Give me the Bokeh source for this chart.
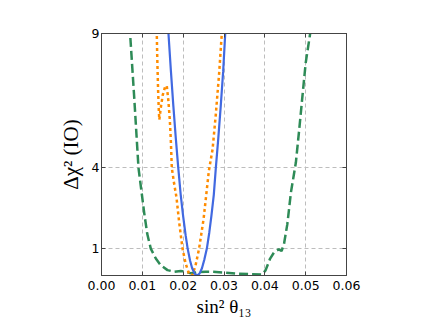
from bokeh.plotting import figure
from bokeh.models import FixedTicker, LinearAxis, NumeralTickFormatter, Range1d
from bokeh.embed import file_html
from bokeh.resources import INLINE

# x ticks and y ticks
x_ticks = [0.00, 0.01, 0.02, 0.03, 0.04, 0.05, 0.06]
y_ticks = [1, 4, 9]

# blue solid curve
blue_x = [0.0161, 0.0164, 0.0170, 0.0176, 0.0182, 0.0188, 0.0194, 0.0200, 0.0206, 0.0211, 0.0217,
          0.0222, 0.0228, 0.0234, 0.0240, 0.0246, 0.0252, 0.0258, 0.0264, 0.0269, 0.0275, 0.0280,
          0.0286, 0.0292, 0.0298, 0.0303, 0.0306]
blue_y = [9.8, 9.0, 7.6, 6.3, 5.1, 4.0, 3.0, 2.2, 1.5, 1.0, 0.55,
          0.27, 0.07, 0.0, 0.07, 0.27, 0.6, 1.0, 1.6, 2.2, 3.0, 4.0,
          5.1, 6.3, 7.6, 9.0, 9.8]

# orange dotted curve
orange_x = [0.01352, 0.01354, 0.01367, 0.01386, 0.01403, 0.01416, 0.01452, 0.01501, 0.01563, 0.01599,
            0.01636, 0.01673, 0.01697, 0.01722, 0.01780, 0.01837, 0.01900, 0.01984, 0.02060, 0.02140,
            0.02190, 0.02220, 0.02300, 0.02390, 0.02500, 0.02630, 0.02720, 0.02800, 0.02880, 0.02946,
            0.02965]
orange_y = [9.8, 9.0, 8.0, 6.9, 6.16, 5.79, 6.24, 6.72, 7.05, 7.05,
            6.53, 5.79, 5.06, 4.0, 3.4, 2.9, 2.0, 1.0, 0.45, 0.08,
            0.0, 0.0, 0.35, 1.0, 2.1, 3.9, 4.69, 6.0, 7.5, 9.0,
            9.8]

# green dashed curve
green_x = [0.0068, 0.0070, 0.0080, 0.00906, 0.01044, 0.01120, 0.01207, 0.0133, 0.01452, 0.01616,
           0.01779, 0.01942, 0.02065, 0.0219, 0.0235, 0.02555, 0.0268, 0.0300, 0.0333, 0.0366,
           0.0394, 0.0402, 0.0413, 0.0423, 0.0434, 0.0441, 0.0447, 0.0455, 0.0464, 0.0476,
           0.0484, 0.0492, 0.0500, 0.0511, 0.0514]
green_y = [9.8, 9.0, 6.65, 4.0, 2.35, 1.55, 1.0, 0.63, 0.38, 0.20,
           0.14, 0.17, 0.14, 0.08, 0.12, 0.14, 0.14, 0.11, 0.07, 0.05,
           0.04, 0.2, 0.63, 0.87, 0.97, 0.91, 1.18, 1.9, 3.1, 4.2,
           5.4, 6.65, 7.9, 9.0, 9.8]

p = figure(width=428, height=319, output_backend="svg", toolbar_location=None,
           x_range=Range1d(0, 0.06), y_range=Range1d(0, 9),
           min_border_left=101, min_border_right=82, min_border_top=33, min_border_bottom=42)
p.background_fill_color = "white"
p.border_fill_color = "white"
p.outline_line_color = "#444444"
p.outline_line_width = 1

for ax in (p.xaxis[0], p.yaxis[0]):
    ax.major_tick_in = 4
    ax.major_tick_out = 0
    ax.minor_tick_line_color = None
    ax.axis_line_color = "#444444"
    ax.major_tick_line_color = "#444444"
    ax.major_label_text_font = "DejaVu Sans"
    ax.major_label_text_font_size = "12.5px"
    ax.major_label_text_color = "black"
    ax.axis_label_text_font = "Liberation Serif"
    ax.axis_label_text_font_style = "normal"
    ax.axis_label_text_color = "black"

p.xaxis[0].ticker = FixedTicker(ticks=x_ticks)
p.xaxis[0].formatter = NumeralTickFormatter(format="0.00")
p.xaxis[0].major_label_standoff = 5
p.xaxis[0].axis_label = "sin\u00b2 \u03b8\u2081\u2083"
p.xaxis[0].axis_label_text_font_size = "19px"
p.xaxis[0].axis_label_standoff = 3

p.yaxis[0].ticker = FixedTicker(ticks=y_ticks)
p.yaxis[0].major_label_standoff = 2
p.yaxis[0].axis_label = "\u0394\u03c7\u00b2 (IO)"
p.yaxis[0].axis_label_text_font_size = "21px"
p.yaxis[0].axis_label_standoff = 6

top = LinearAxis(ticker=FixedTicker(ticks=x_ticks), major_tick_in=4, major_tick_out=0,
                 minor_tick_line_color=None, major_label_text_color=None,
                 axis_line_color="#444444", major_tick_line_color="#444444")
right = LinearAxis(ticker=FixedTicker(ticks=y_ticks), major_tick_in=4, major_tick_out=0,
                   minor_tick_line_color=None, major_label_text_color=None,
                   axis_line_color="#444444", major_tick_line_color="#444444")
p.add_layout(top, "above")
p.add_layout(right, "right")

p.xgrid.ticker = FixedTicker(ticks=x_ticks[1:-1])
p.ygrid.ticker = FixedTicker(ticks=[1, 4])
for g in (p.xgrid[0], p.ygrid[0]):
    g.grid_line_color = "#bdbdbd"
    g.grid_line_dash = "4 3"
    g.grid_line_width = 1

p.line(green_x, green_y, line_color="#2e8b57", line_width=2.5, line_dash="9 4")
p.line(orange_x, orange_y, line_color="#ff8c00", line_width=2.5, line_dash="3 3")
p.line(blue_x, blue_y, line_color="#4169e1", line_width=2.2)

open("out.html", "w").write(file_html(p, INLINE))
